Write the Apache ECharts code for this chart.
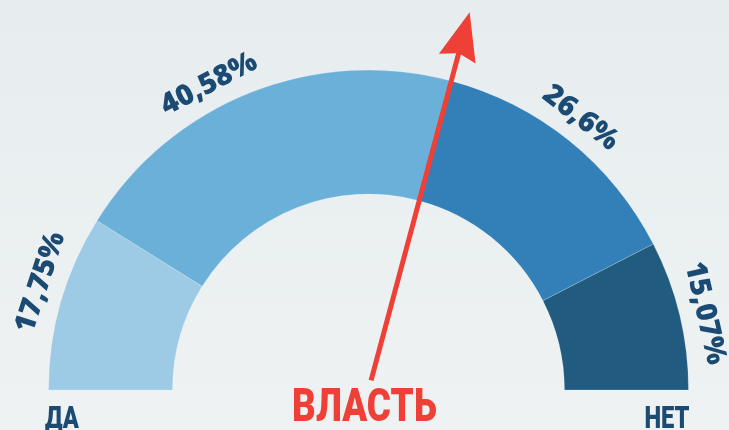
<!DOCTYPE html>
<html>
<head>
<meta charset="utf-8">
<script src="https://cdn.jsdelivr.net/npm/echarts@6/dist/echarts.min.js"></script>
<style>
html,body{margin:0;padding:0;background:#e9eef0;}
#main{width:729px;height:430px;}
</style>
</head>
<body>
<div id="main"></div>
<script>
// ответы: ДА ... НЕТ
var answers = ['ДА', 'скорее да', 'скорее нет', 'НЕТ'];
var shares = [17.75, 40.58, 26.6, 15.07];
var colors = ['#9dcae4', '#6ab0d8', '#337fb7', '#215b80'];
var pointerName = 'ВЛАСТЬ';
var endLabels = ['ДА', 'НЕТ'];

var navy = '#1b4a72';
var red = '#ee4036';
var cx = 368.5, cy = 390;

function pct(v) {
    return String(v).replace('.', ',') + '%';
}

// стрелка показывает сумму "да"
var pointerValue = shares[0] + shares[1];

var ring = [];
for (var i = 0; i < shares.length; i++) {
    ring.push({name: answers[i], value: shares[i], itemStyle: {color: colors[i]}});
}

var myChart = echarts.init(document.getElementById('main'));

var option = {
    backgroundColor: {
        type: 'linear', x: 0, y: 0, x2: 0, y2: 1,
        colorStops: [{offset: 0, color: '#e7edef'}, {offset: 1, color: '#eef2f3'}]
    },
    animation: false,
    graphic: [
        {type: 'text', x: 62, y: 420, scaleX: 0.74, z: 10,
         style: {text: endLabels[0], fill: navy, fontSize: 32, fontWeight: 900, fontFamily: 'Roboto',
                 align: 'center', verticalAlign: 'middle'}},
        {type: 'text', x: 667, y: 420, scaleX: 0.74, z: 10,
         style: {text: endLabels[1], fill: navy, fontSize: 32, fontWeight: 900, fontFamily: 'Roboto',
                 align: 'center', verticalAlign: 'middle'}},
        {type: 'text', x: 364.5, y: 409, scaleX: 0.8, z: 10,
         style: {text: pointerName, fill: red, fontSize: 46, fontWeight: 900, fontFamily: 'Roboto',
                 align: 'center', verticalAlign: 'middle'}}
    ],
    series: [
        {
            type: 'pie',
            center: [cx, cy],
            radius: [196, 320],
            startAngle: 180,
            endAngle: 0,
            silent: true,
            z: 2,
            label: {
                show: true,
                position: 'inside',
                formatter: function (p) { return pct(p.value); },
                color: navy,
                fontSize: 29,
                fontWeight: 800,
                fontFamily: 'Open Sans'
            },
            labelLine: {show: false},
            // подписи по дуге снаружи кольца
            labelLayout: function (p) {
                var nudge = [-2.2, 6, 1, -0.7];
                var k = p.dataIndex, before = 0;
                for (var j = 0; j < k; j++) before += shares[j];
                var deg = 180 - (before + shares[k] / 2) / 100 * 180 + nudge[k];
                var rad = deg * Math.PI / 180;
                return {
                    x: cx + 345 * Math.cos(rad),
                    y: cy - 345 * Math.sin(rad),
                    rotate: deg - 90,
                    align: 'center',
                    verticalAlign: 'middle'
                };
            },
            itemStyle: {borderColor: 'rgba(255,255,255,0.35)', borderWidth: 0.6},
            data: ring
        },
        {
            type: 'gauge',
            center: [cx, cy],
            radius: 391,
            startAngle: 180,
            endAngle: 0,
            min: 0,
            max: 100,
            silent: true,
            z: 5,
            axisLine: {show: false},
            splitLine: {show: false},
            axisTick: {show: false},
            axisLabel: {show: false},
            progress: {show: false},
            anchor: {show: false},
            pointer: {
                icon: 'path://M19 0 L38 48 L21.5 43 L21.5 381 L16.5 381 L16.5 43 L0 48 Z',
                width: 38,
                length: 381,
                offsetCenter: [0, -10],
                itemStyle: {color: red}
            },
            title: {show: false},
            detail: {show: false},
            data: [{name: pointerName, value: pointerValue}]
        }
    ]
};

myChart.setOption(option);
</script>
</body>
</html>
